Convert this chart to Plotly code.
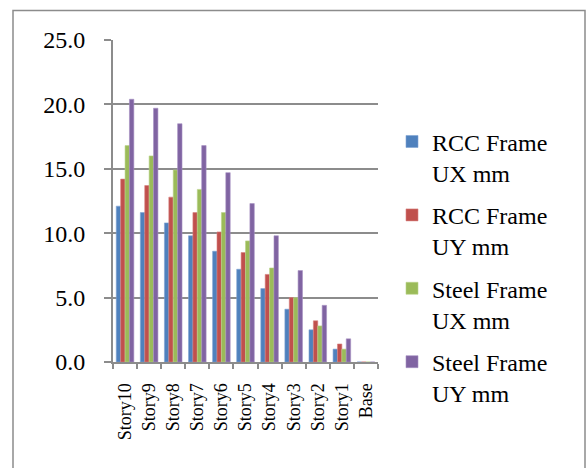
import plotly.graph_objects as go

# Story displacement values per storey
stories = ["Story10", "Story9", "Story8", "Story7", "Story6", "Story5",
           "Story4", "Story3", "Story2", "Story1", "Base"]
rcc_ux = [12.1, 11.6, 10.8, 9.8, 8.6, 7.2, 5.7, 4.1, 2.5, 1.0, 0.0]
rcc_uy = [14.2, 13.7, 12.8, 11.6, 10.1, 8.5, 6.8, 5.0, 3.2, 1.4, 0.0]
steel_ux = [16.8, 16.0, 14.9, 13.4, 11.6, 9.4, 7.3, 5.0, 2.8, 1.0, 0.0]
steel_uy = [20.4, 19.7, 18.5, 16.8, 14.7, 12.3, 9.8, 7.1, 4.4, 1.8, 0.0]

series = [
    ("RCC Frame<br>UX mm", rcc_ux, "#4F81BD", "#7FA3D3"),
    ("RCC Frame<br>UY mm", rcc_uy, "#C0504D", "#D88280"),
    ("Steel Frame<br>UX mm", steel_ux, "#9BBB59", "#BBD38A"),
    ("Steel Frame<br>UY mm", steel_uy, "#8064A2", "#A690C2"),
]

font_family = "Liberation Serif"

fig = go.Figure()
for i, (name, vals, color, edge) in enumerate(series):
    fig.add_trace(go.Bar(
        x=stories, y=vals, name=name, legendgroup=f"g{i}",
        marker=dict(color=color, line=dict(color=edge, width=0.6)),
    ))

# plot area in pixels
L, R, T, B = 113, 378, 39.5, 362
W, H = 586, 468
pw, ph = R - L, B - T

fig.update_layout(
    width=W, height=H,
    margin=dict(l=L, r=W - R, t=T, b=H - B, pad=0),
    paper_bgcolor="white", plot_bgcolor="white",
    barmode="group", bargap=0.27, bargroupgap=0,
    font=dict(family=font_family, color="black"),
    showlegend=True,
    legend=dict(
        x=(392 - L) / pw, y=(B - 119) / ph, xanchor="left", yanchor="top",
        font=dict(size=24, family=font_family, color="black"),
        valign="top", tracegroupgap=8, itemwidth=30,
        bgcolor="rgba(0,0,0,0)",
    ),
    shapes=[dict(
        type="rect", xref="paper", yref="paper",
        x0=(13 - L) / pw, x1=(585 - L) / pw,
        y0=(B - 480) / ph, y1=(B - 10) / ph,
        line=dict(color="#8C8C8C", width=1.5), fillcolor="rgba(0,0,0,0)",
        layer="below",
    )],
)

fig.update_xaxes(
    type="category",
    showline=True, linecolor="#8C8C8C", linewidth=2,
    ticks="outside", tickson="boundaries", ticklen=5, tickcolor="#8C8C8C", tickwidth=1.5,
    tickangle=-90, ticklabelstandoff=12,
    tickfont=dict(size=18, family=font_family, color="black"),
    showgrid=False,
)
fig.update_yaxes(
    range=[0, 25], dtick=5, tickformat=".1f",
    showline=True, linecolor="#8C8C8C", linewidth=2,
    ticks="outside", ticklen=7, tickcolor="#8C8C8C", tickwidth=1.5,
    ticklabelstandoff=14,
    showgrid=True, gridcolor="#8C8C8C", gridwidth=1.5,
    zeroline=False,
    tickfont=dict(size=24, family=font_family, color="black"),
)

fig.write_html("out.html")
